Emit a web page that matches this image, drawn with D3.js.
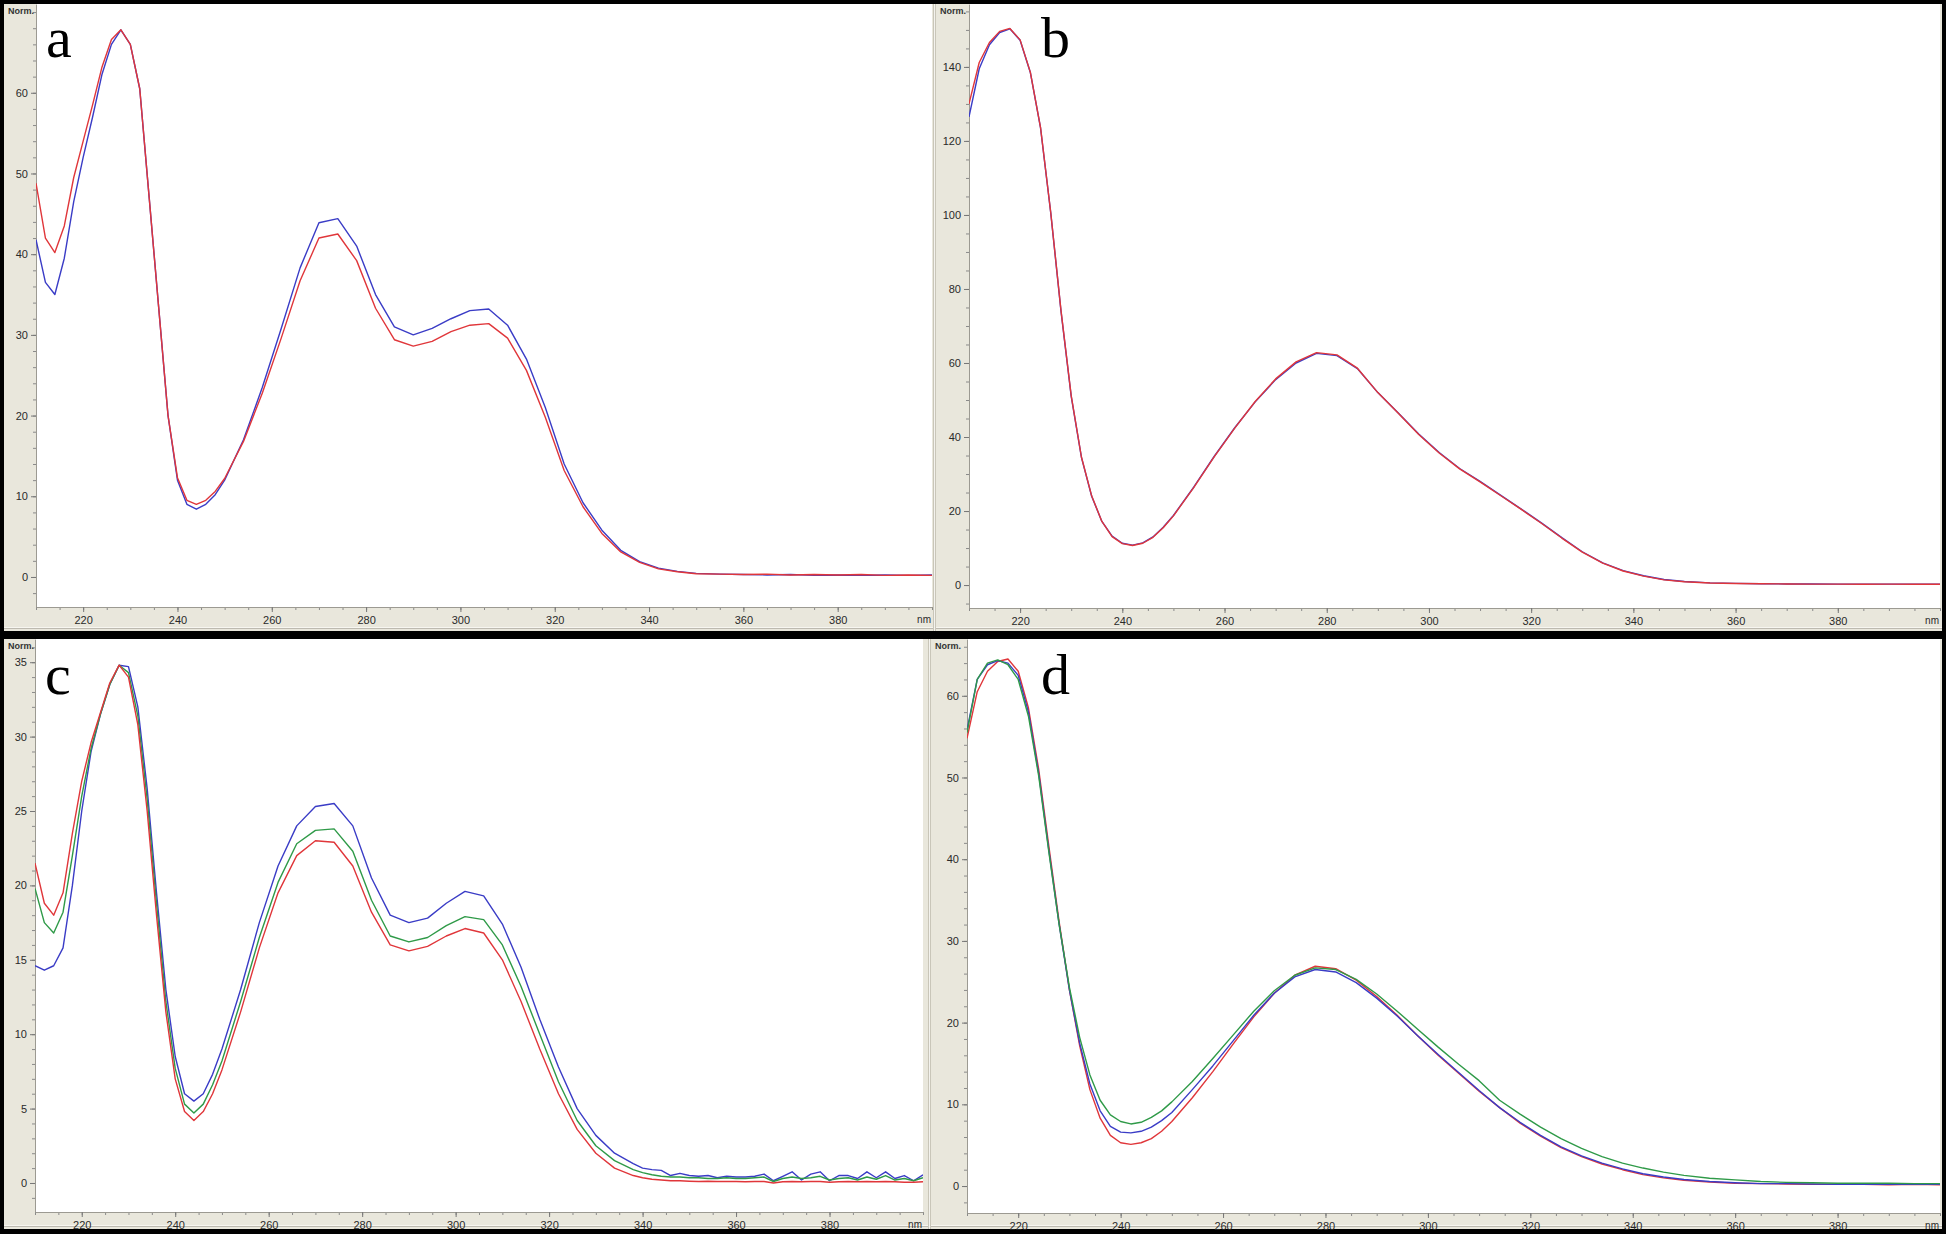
<!DOCTYPE html>
<html>
<head>
<meta charset="utf-8">
<script src="https://cdn.jsdelivr.net/npm/d3@7"></script>
<style>
  html, body { margin: 0; padding: 0; background: #000; }
  svg { display: block; }
  .tick text { font-family: "Liberation Sans", Arial, sans-serif; font-size: 11px; fill: #2a2a2a; }
</style>
</head>
<body>
<div id="chart"></div>
<script>

// wavelengths (nm) shared by panels a, b, d
const wavelengths = [210,212,214,216,218,220,222,224,226,228,230,232,234,236,238,240,242,244,246,248,250,
  254,258,262,266,270,274,278,282,286,290,294,298,302,306,310,314,318,322,326,330,334,338,342,346,350,
  355,360,365,370,375,380,385,390,395,400];

// panel c was read at a finer step in the noisy tail
const wavelengthsC = [210,212,214,216,218,220,222,224,226,228,230,232,234,236,238,240,242,244,246,248,250,
  254,258,262,266,270,274,278,282,286,290,294,298,302,306,310,314,318,322,326,330,334,338,
  340,342,344,346,348,350,352,354,356,358,360,362,364,366,368,370,372,374,376,378,380,382,384,386,388,390,392,394,396,398,400];

// panel a
const aBlue = [41.8,36.5,35.0,39.5,46.5,52.0,57.0,62.3,66.0,67.8,66.0,60.5,47.0,33.5,20.0,12.0,9.0,8.4,9.0,10.2,12.0,
  17.0,23.5,30.8,38.3,43.9,44.4,41.0,35.0,31.0,30.0,30.8,32.0,33.0,33.2,31.2,27.0,21.0,14.0,9.2,5.8,3.3,1.9,1.1,0.7,0.45,
  0.35,0.3,0.25,0.3,0.2,0.25,0.2,0.25,0.2,0.25];
const aRed = [48.8,42.0,40.2,43.5,49.5,54.0,58.5,63.2,66.6,67.8,66.0,60.5,47.0,33.5,20.0,12.3,9.5,9.0,9.5,10.6,12.2,
  16.8,22.8,29.6,36.7,42.0,42.5,39.2,33.3,29.4,28.6,29.2,30.4,31.2,31.4,29.6,25.6,19.8,13.2,8.7,5.4,3.1,1.8,1.0,0.65,0.4,
  0.35,0.3,0.35,0.25,0.3,0.25,0.3,0.2,0.25,0.2];

// panel b
const bBlue = [126.5,139.5,146.0,149.3,150.3,147.2,138.5,123.5,100.5,74.0,51.0,34.5,24.0,17.2,13.2,11.3,10.8,11.4,13.0,15.6,18.8,
  26.5,34.8,42.5,49.5,55.5,60.0,62.6,62.0,58.5,52.0,46.5,40.8,35.8,31.5,28.0,24.3,20.6,16.8,12.8,9.0,6.0,3.9,2.5,1.5,0.95,
  0.6,0.45,0.35,0.3,0.3,0.25,0.25,0.25,0.25,0.25];
const bRed = [130.0,141.2,146.6,149.6,150.4,147.3,138.6,123.6,100.6,74.2,51.2,34.6,24.1,17.2,13.1,11.2,10.7,11.3,12.9,15.5,18.7,
  26.4,34.7,42.4,49.6,55.7,60.3,62.8,62.2,58.6,52.0,46.4,40.7,35.7,31.4,27.9,24.2,20.5,16.7,12.7,8.9,5.9,3.8,2.4,1.4,0.9,
  0.55,0.4,0.35,0.3,0.25,0.25,0.2,0.25,0.2,0.2];

// panel c
const cBlue = [14.6,14.3,14.6,15.8,20.0,25.0,29.0,31.5,33.5,34.8,34.7,32.0,26.5,19.5,13.0,8.5,6.0,5.5,6.0,7.3,9.0,
  13.0,17.5,21.3,24.0,25.3,25.5,24.0,20.5,18.0,17.5,17.8,18.8,19.6,19.3,17.4,14.5,11.0,7.8,5.0,3.2,2.0,1.3,
  1.0,0.9,0.85,0.5,0.65,0.5,0.45,0.5,0.35,0.45,0.4,0.4,0.45,0.6,0.15,0.45,0.75,0.2,0.6,0.75,0.15,0.5,0.5,0.3,0.75,0.35,0.75,0.3,0.5,0.15,0.55];
const cGreen = [19.8,17.5,16.8,18.2,22.0,26.0,29.2,31.5,33.5,34.8,34.3,31.4,25.8,18.8,12.2,7.7,5.3,4.7,5.3,6.6,8.2,
  12.2,16.5,20.2,22.8,23.7,23.8,22.3,19.0,16.6,16.2,16.5,17.3,17.9,17.7,16.0,13.2,10.0,6.8,4.2,2.5,1.5,0.9,
  0.7,0.55,0.45,0.4,0.4,0.35,0.35,0.3,0.3,0.35,0.3,0.3,0.35,0.4,0.1,0.3,0.4,0.3,0.35,0.45,0.2,0.3,0.35,0.2,0.4,0.25,0.5,0.2,0.3,0.15,0.35];
const cRed = [21.5,18.8,18.0,19.5,23.5,27.0,29.6,31.6,33.6,34.8,34.0,30.8,25.0,18.0,11.5,7.0,4.8,4.2,4.8,6.0,7.6,
  11.5,15.8,19.5,22.0,23.0,22.9,21.3,18.2,16.0,15.6,15.9,16.6,17.1,16.8,15.0,12.2,9.0,6.0,3.6,2.0,1.0,0.5,
  0.35,0.25,0.2,0.15,0.15,0.12,0.1,0.12,0.1,0.1,0.1,0.08,0.1,0.1,0.0,0.08,0.1,0.08,0.1,0.1,0.05,0.08,0.1,0.08,0.1,0.08,0.1,0.08,0.05,0.05,0.08];

// panel d
const dBlue = [55.8,62.0,63.8,64.3,64.0,62.5,58.0,50.5,41.0,32.0,24.0,17.5,12.5,9.2,7.3,6.6,6.5,6.7,7.2,8.0,9.0,
  11.8,14.7,17.8,20.9,23.6,25.6,26.5,26.2,24.9,23.0,20.8,18.4,16.1,13.9,11.7,9.6,7.8,6.2,4.8,3.7,2.8,2.1,1.5,1.1,0.8,
  0.55,0.4,0.3,0.3,0.25,0.2,0.25,0.2,0.2,0.2];
const dRed = [54.8,60.5,63.0,64.2,64.5,63.0,58.5,51.0,41.5,32.3,24.0,17.2,11.8,8.3,6.2,5.3,5.1,5.3,5.8,6.7,7.9,
  10.8,14.0,17.4,20.7,23.6,25.8,26.9,26.6,25.2,23.2,20.9,18.4,16.0,13.8,11.6,9.6,7.7,6.1,4.7,3.6,2.7,2.0,1.4,1.0,0.7,
  0.5,0.35,0.3,0.25,0.2,0.2,0.2,0.15,0.2,0.15];
const dGreen = [55.5,62.0,64.0,64.4,63.8,62.0,57.5,50.2,40.8,32.0,24.3,18.2,13.6,10.5,8.7,7.9,7.6,7.8,8.4,9.2,10.3,
  12.8,15.6,18.5,21.4,23.9,25.8,26.7,26.5,25.3,23.5,21.4,19.2,17.0,14.9,12.9,10.5,8.8,7.2,5.8,4.6,3.6,2.8,2.2,1.7,1.3,
  0.95,0.75,0.55,0.45,0.4,0.35,0.35,0.35,0.3,0.3];

const xMajor = [220,240,260,280,300,320,340,360,380];

const BLUE = "#3a3cc6", RED = "#e0363a", GREEN = "#2f9a48";

const W = 1946, H = 1234;

// panel boxes: frame = grey window, plot = white area
const panels = [
  { letter: "a", x: wavelengths, series: [[aBlue, BLUE], [aRed, RED]],
    frame: [4, 4, 933, 631], plot: [36, 4, 932, 607], yDomain: [-3.72, 71.0], major: 10, minor: 2, lab: [46, 57] },
  { letter: "b", x: wavelengths, series: [[bBlue, BLUE], [bRed, RED]],
    frame: [936, 4, 1942, 631], plot: [969, 4, 1940, 608], yDomain: [-6.2, 157.0], major: 20, minor: 5, lab: [1041, 57] },
  { letter: "c", x: wavelengthsC, series: [[cBlue, BLUE], [cGreen, GREEN], [cRed, RED]],
    frame: [4, 639, 928, 1229], plot: [35, 639, 923, 1212], yDomain: [-1.95, 36.56], major: 5, minor: 1, lab: [45, 694] },
  { letter: "d", x: wavelengths, series: [[dRed, RED], [dBlue, BLUE], [dGreen, GREEN]],
    frame: [931, 639, 1942, 1229], plot: [967, 639, 1940, 1213], yDomain: [-3.3, 66.95], major: 10, minor: 2, lab: [1041, 694] }
];

const svg = d3.select("#chart").append("svg")
  .attr("width", W)
  .attr("height", H)
  .attr("viewBox", [0, 0, W, H]);

svg.append("rect").attr("width", W).attr("height", H).attr("fill", "#000");

panels.forEach((p, i) => {
  const [fx0, fy0, fx1, fy1] = p.frame;
  const [px0, py0, px1, py1] = p.plot;
  const g = svg.append("g");

  // grey window
  g.append("rect")
    .attr("x", fx0).attr("y", fy0)
    .attr("width", fx1 - fx0).attr("height", fy1 - fy0)
    .attr("fill", "#e9e7dc");
  // window bottom edge
  g.append("line")
    .attr("x1", fx0).attr("x2", fx1).attr("y1", fy1 - 3.5).attr("y2", fy1 - 3.5)
    .attr("stroke", "#f7f6f0");
  g.append("line")
    .attr("x1", fx0).attr("x2", fx1).attr("y1", fy1 - 2.5).attr("y2", fy1 - 2.5)
    .attr("stroke", "#bdbab0");

  // white plotting area
  g.append("rect")
    .attr("x", px0).attr("y", py0)
    .attr("width", px1 - px0).attr("height", py1 - py0)
    .attr("fill", "#fff");

  const x = d3.scaleLinear().domain([210, 400]).range([px0, px1]);
  const y = d3.scaleLinear().domain(p.yDomain).range([py1, py0]);

  // y axis, minor then major ticks
  const yTop = p.yDomain[1];
  const minorY = d3.range(Math.ceil(p.yDomain[0] / p.minor) * p.minor, yTop, p.minor)
    .filter(v => y(v) > py0 + 3);
  const majorY = d3.range(0, yTop, p.major).filter(v => y(v) > py0 + 14);

  g.append("g")
    .attr("transform", `translate(${px0},0)`)
    .call(d3.axisLeft(y).tickValues(minorY).tickSize(3).tickFormat(""))
    .call(a => a.select(".domain").remove())
    .call(a => a.selectAll(".tick line").attr("stroke", "#8a8a8a"));

  g.append("g")
    .attr("transform", `translate(${px0},0)`)
    .call(d3.axisLeft(y).tickValues(majorY).tickSize(5).tickPadding(3).tickSizeOuter(0).tickFormat(d3.format("d")))
    .call(a => a.select(".domain").attr("stroke", "#9c9a92"))
    .call(a => a.selectAll(".tick line").attr("stroke", "#777"));

  // x axis
  const minorX = d3.range(210, 401, 5);
  g.append("g")
    .attr("transform", `translate(0,${py1})`)
    .call(d3.axisBottom(x).tickValues(minorX).tickSize(3).tickFormat(""))
    .call(a => a.select(".domain").remove())
    .call(a => a.selectAll(".tick line").attr("stroke", "#8a8a8a"));

  g.append("g")
    .attr("transform", `translate(0,${py1})`)
    .call(d3.axisBottom(x).tickValues(xMajor).tickSize(5).tickPadding(4).tickSizeOuter(0).tickFormat(d3.format("d")))
    .call(a => a.select(".domain").attr("stroke", "#9c9a92"))
    .call(a => a.selectAll(".tick line").attr("stroke", "#777"));

  g.append("text")
    .attr("x", px1 - 1).attr("y", py1 + 16)
    .attr("text-anchor", "end")
    .attr("font-family", "Liberation Sans, Arial, sans-serif")
    .attr("font-size", 10)
    .attr("fill", "#2a2a2a")
    .text("nm");

  g.append("text")
    .attr("x", fx0 + 4).attr("y", py0 + 10)
    .attr("font-family", "Liberation Sans, Arial, sans-serif")
    .attr("font-size", 9)
    .attr("font-weight", "bold")
    .attr("fill", "#333")
    .text("Norm.");

  // spectra
  const clipId = "clip-" + p.letter;
  svg.append("clipPath").attr("id", clipId)
    .append("rect")
    .attr("x", px0).attr("y", py0)
    .attr("width", px1 - px0).attr("height", py1 - py0);

  const line = d3.line()
    .x((d, j) => x(p.x[j]))
    .y(d => y(d));

  g.append("g")
    .attr("clip-path", `url(#${clipId})`)
    .selectAll("path")
    .data(p.series)
    .join("path")
    .attr("d", d => line(d[0]))
    .attr("fill", "none")
    .attr("stroke", d => d[1])
    .attr("stroke-width", 1.4)
    .attr("stroke-linejoin", "round");

  // panel letter
  g.append("text")
    .attr("x", p.lab[0]).attr("y", p.lab[1])
    .attr("font-family", "Liberation Serif, Times New Roman, serif")
    .attr("font-size", 58)
    .attr("fill", "#000")
    .text(p.letter);
});

// separators between the left and right windows
[[933, 4, 631], [928, 639, 1229]].forEach(([sx, y0, y1]) => {
  svg.append("rect").attr("x", sx).attr("y", y0).attr("width", 3).attr("height", y1 - y0).attr("fill", "#c9c6b9");
  svg.append("line").attr("x1", sx + 1.5).attr("x2", sx + 1.5).attr("y1", y0).attr("y2", y1).attr("stroke", "#f4f3ee");
});

</script>
</body>
</html>
